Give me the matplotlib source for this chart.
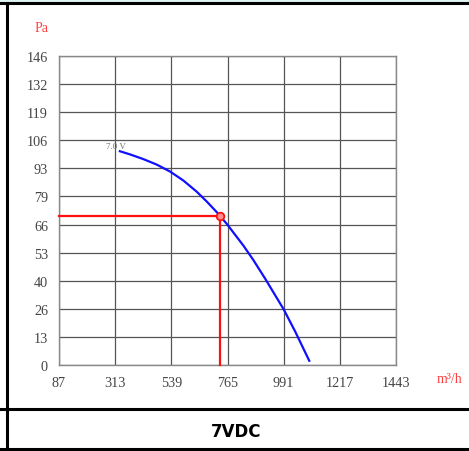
import numpy as np
import matplotlib.pyplot as plt
from matplotlib.lines import Line2D
from matplotlib.patches import Rectangle

# fan curve at 7.0 V
flow = [332, 373, 426, 480, 534, 587, 641, 681, 722, 735, 764, 829, 869, 916,
        991, 1037, 1094]
pressure = [101.0, 99.5, 97.3, 94.7, 91.4, 87.2, 81.9, 77.3, 72.2, 70.4, 66.4,
            56.4, 49.6, 40.9, 26.3, 15.9, 2.0]

# duty point
op_flow = 735
op_pressure = 70.4

x_ticks = [87, 313, 539, 765, 991, 1217, 1443]
y_max = 146
y_labels = ['0', '13', '26', '40', '53', '66', '79', '93', '106', '119', '132', '146']

W, H = 469, 452
fig = plt.figure(figsize=(W / 100, H / 100), dpi=100)

# table cell borders
fig.add_artist(Rectangle((0, 1 - 3 / H), 1, 3 / H, transform=fig.transFigure,
                         color='#dff3f3', lw=0))
for y in (H - 4, H - 410, H - 450):
    fig.add_artist(Line2D([0, 1], [y / H, y / H], transform=fig.transFigure,
                          color='black', lw=2.2))
fig.add_artist(Line2D([7 / W, 7 / W], [(H - 450) / H, (H - 4) / H],
                      transform=fig.transFigure, color='black', lw=2.2))

ax = fig.add_axes([59 / W, (H - 366) / H, 337 / W, 309 / H])
ax.set_xlim(x_ticks[0], x_ticks[-1])
ax.set_ylim(0, y_max)
ax.set_xticks(x_ticks)
ax.set_xticklabels([str(v) for v in x_ticks])
ax.set_yticks(np.linspace(0, y_max, len(y_labels)))
ax.set_yticklabels(y_labels)
ax.grid(True, color='#555555', lw=0.9)
ax.set_axisbelow(True)
for s in ax.spines.values():
    s.set_color('#888888')
    s.set_linewidth(1.0)
ax.tick_params(length=0, pad=8, labelsize=10.2, labelcolor='#444444')
for lbl in ax.get_xticklabels() + ax.get_yticklabels():
    lbl.set_family('Liberation Serif')

ax.plot(flow, pressure, color='#1010ff', lw=1.6, zorder=3,
        solid_joinstyle='round')
ax.plot([x_ticks[0], op_flow], [op_pressure, op_pressure], color='#ff1010', lw=1.6,
        zorder=4, clip_on=False)
ax.plot([op_flow, op_flow], [op_pressure, 0], color='#ff1010', lw=1.6, zorder=4,
        clip_on=False)
ax.plot([op_flow], [op_pressure], 'o', ms=5.5, mec='#ff1010', mfc='#ff9090',
        mew=1.3, zorder=5)
ax.text(flow[0] - 17, pressure[0] + 0.5, '7.0 V', fontsize=6.5, color='#777777',
        family='Liberation Serif', ha='center', va='bottom')

fig.text(42 / W, 1 - 28 / H, 'Pa', color='#ff4040', fontsize=10,
         family='Liberation Serif', ha='center', va='center')
fig.text(450 / W, 1 - 380 / H, 'm³/h', color='#ff4040', fontsize=10,
         family='Liberation Serif', ha='center', va='center')
fig.text(236 / W, 1 - 432 / H, '7VDC', fontsize=12, fontweight='bold',
         family='DejaVu Sans', ha='center', va='center')

fig.savefig('out.png', dpi=100)
